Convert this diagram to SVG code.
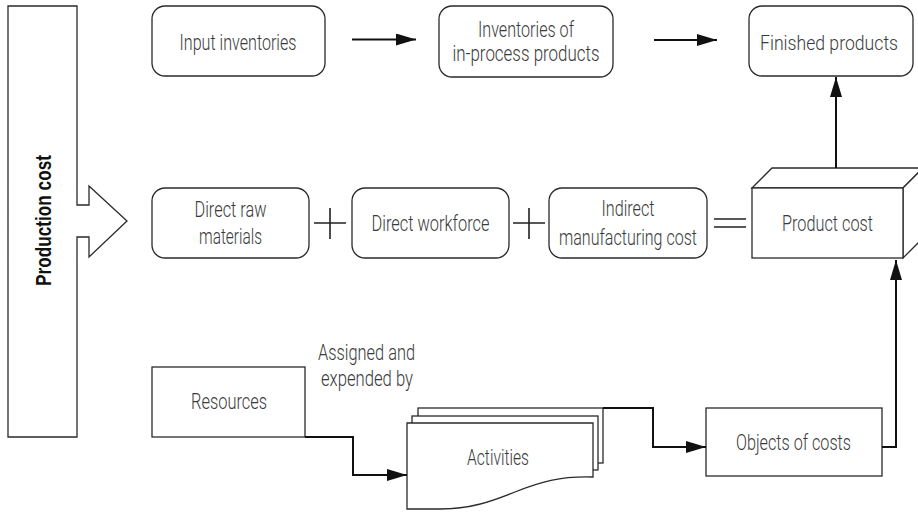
<svg xmlns="http://www.w3.org/2000/svg" width="918" height="513" viewBox="0 0 918 513">
  <defs>
    <marker id="arrow" viewBox="0 0 20 12" refX="20" refY="6" markerWidth="20" markerHeight="12" markerUnits="userSpaceOnUse" orient="auto">
      <path d="M0,0 L20,6 L0,12 Z" fill="#111"/>
    </marker>
    <style>
      .box { fill: #fff; stroke: #2a2a2a; stroke-width: 1.3; }
      .lbl { font-family: "Roboto", "Liberation Sans", sans-serif; font-weight: 300; font-size: 22.5px; fill: #3a3a3a; text-anchor: middle; }
      .title { font-family: "Liberation Sans", "Roboto", sans-serif; font-weight: bold; font-size: 22px; fill: #111; text-anchor: middle; }
      .conn { fill: none; stroke: #111; stroke-width: 2; }
      .op { fill: none; stroke: #222; stroke-width: 1.6; }
    </style>
  </defs>

  <!-- Production cost block arrow -->
  <g id="production-cost">
    <path class="box" d="M8,6 H77 V205 H89 V186 L127,221 L89,257 V237 H77 V437 H8 Z"/>
    <text class="title" transform="translate(50.5,220.5) rotate(-90)" textLength="131" lengthAdjust="spacingAndGlyphs">Production cost</text>
  </g>

  <!-- Top row -->
  <g id="input-inventories">
    <rect class="box" x="152" y="6" width="173" height="70" rx="13"/>
    <text class="lbl" x="238" y="50" textLength="117" lengthAdjust="spacingAndGlyphs">Input inventories</text>
  </g>
  <g id="in-process">
    <rect class="box" x="439" y="6" width="174" height="71" rx="13"/>
    <text class="lbl" x="526" y="37" textLength="96" lengthAdjust="spacingAndGlyphs">Inventories of</text>
    <text class="lbl" x="526" y="60.5" textLength="147" lengthAdjust="spacingAndGlyphs">in-process products</text>
  </g>
  <g id="finished-products">
    <rect class="box" x="749" y="6" width="164" height="70" rx="13"/>
    <text class="lbl" x="829" y="50" style="font-size:21px" textLength="138" lengthAdjust="spacingAndGlyphs">Finished products</text>
  </g>

  <!-- Middle row -->
  <g id="direct-raw-materials">
    <rect class="box" x="152" y="188" width="157" height="70" rx="13"/>
    <text class="lbl" x="230.5" y="217" textLength="72" lengthAdjust="spacingAndGlyphs">Direct raw</text>
    <text class="lbl" x="230.5" y="244" textLength="63" lengthAdjust="spacingAndGlyphs">materials</text>
  </g>
  <g id="plus-1">
    <path class="op" d="M314,223 H346 M330,208 V239"/>
  </g>
  <g id="direct-workforce">
    <rect class="box" x="352" y="188" width="157" height="70" rx="13"/>
    <text class="lbl" x="430.5" y="231" textLength="118" lengthAdjust="spacingAndGlyphs">Direct workforce</text>
  </g>
  <g id="plus-2">
    <path class="op" d="M513,223 H545 M529,208 V239"/>
  </g>
  <g id="indirect-manufacturing-cost">
    <rect class="box" x="549" y="188" width="158" height="70" rx="13"/>
    <text class="lbl" x="628" y="216" textLength="53" lengthAdjust="spacingAndGlyphs">Indirect</text>
    <text class="lbl" x="628" y="245" textLength="138" lengthAdjust="spacingAndGlyphs">manufacturing cost</text>
  </g>
  <g id="equals">
    <path class="op" d="M714,219 H746 M714,227 H746"/>
  </g>
  <g id="product-cost">
    <polygon class="box" points="752,188 772,168 923,168 903,188"/>
    <polygon class="box" points="903,188 923,168 923,238 903,258"/>
    <rect class="box" x="752" y="188" width="151" height="70"/>
    <text class="lbl" x="827.5" y="231" textLength="91" lengthAdjust="spacingAndGlyphs">Product cost</text>
  </g>

  <!-- Bottom row -->
  <g id="resources">
    <rect class="box" x="152" y="367" width="153" height="70"/>
    <text class="lbl" x="229" y="409" textLength="76" lengthAdjust="spacingAndGlyphs">Resources</text>
  </g>
  <g id="assigned-label">
    <text class="lbl" x="366.5" y="360" textLength="97" lengthAdjust="spacingAndGlyphs">Assigned and</text>
    <text class="lbl" x="367" y="386" textLength="92" lengthAdjust="spacingAndGlyphs">expended by</text>
  </g>
  <g id="activities">
    <rect class="box" x="418" y="408" width="185" height="55"/>
    <rect class="box" x="412" y="416" width="186" height="54"/>
    <path class="box" d="M407,423 H593 V477 C560,476 540,482 515,492 C490,502 470,509 440,509 H407 Z"/>
    <text class="lbl" x="498" y="465" textLength="62" lengthAdjust="spacingAndGlyphs">Activities</text>
  </g>
  <g id="objects-of-costs">
    <rect class="box" x="706" y="408" width="176" height="68"/>
    <text class="lbl" x="793.5" y="450" textLength="115" lengthAdjust="spacingAndGlyphs">Objects of costs</text>
  </g>

  <!-- Connectors -->
  <g id="connectors">
    <line class="conn" x1="352" y1="39.5" x2="416" y2="39.5" marker-end="url(#arrow)"/>
    <line class="conn" x1="654" y1="40" x2="717" y2="40" marker-end="url(#arrow)"/>
    <line class="conn" x1="836" y1="168" x2="836" y2="77" marker-end="url(#arrow)"/>
    <polyline class="conn" points="305,437 353,437 353,475 407,475" marker-end="url(#arrow)"/>
    <polyline class="conn" points="603,408 653,408 653,447 706,447" marker-end="url(#arrow)"/>
    <polyline class="conn" points="882,447 896,447 896,260" marker-end="url(#arrow)"/>
  </g>
</svg>
